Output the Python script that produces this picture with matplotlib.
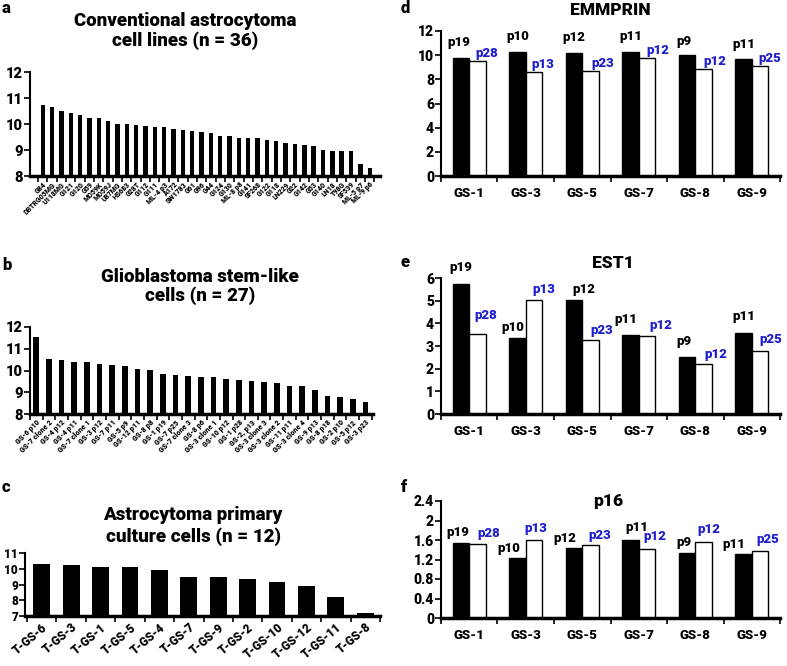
import numpy as np
import matplotlib
matplotlib.use('Agg')
import matplotlib.pyplot as plt

plt.rcParams['font.family'] = ['Roboto', 'DejaVu Sans']
plt.rcParams['font.weight'] = 'black'

W, H = 787, 666
BLUE = '#1f1fd0'

# Panel a: conventional astrocytoma cell lines
a_labels = ['G84', 'DBTRG05MG', 'U118MG', 'G121', 'G120', 'G59', 'MO59K', 'MO59J',
            'U87MG', 'HS683', 'G28T', 'G112', 'G111', 'ML-4 p3', 'A172', 'SW1783',
            'G61', 'G96', 'G44', 'G124', 'G130', 'ML-8 p8', 'G141', 'SF268', 'G122',
            'G118', 'LN229', 'G22', 'G142', 'G53', 'G140', 'LN18', 'T98G', 'SF539',
            'ML-5 p7', 'ML-9 p6']
a_values = [10.75, 10.65, 10.5, 10.42, 10.33, 10.25, 10.25, 10.1, 10.0, 10.0, 9.97,
            9.93, 9.88, 9.88, 9.82, 9.78, 9.75, 9.7, 9.67, 9.55, 9.55, 9.48, 9.46,
            9.46, 9.38, 9.35, 9.28, 9.22, 9.18, 9.15, 9.0, 8.98, 8.96, 8.96, 8.48, 8.3]

# Panel b: glioblastoma stem-like cells
b_labels = ['GS-6 p10', 'GS-7 clone 2', 'GS-4 p12', 'GS-4 p11', 'GS-7 clone 1',
            'GS-3 p12', 'GS-7 p11', 'GS-5 p9', 'GS-12 p11', 'GS-8 p8', 'GS-1 p19',
            'GS-7 p25', 'GS-7 clone 3', 'GS-8 p6', 'GS-3 clone 1', 'GS-10 p12',
            'GS-1 p28', 'GS-2, p13', 'GS-3 clone 3', 'GS-3 clone 2', 'GS-11 p11',
            'GS-3 clone 4', 'GS-9 p13', 'GS-8 p18', 'GS-2 p10', 'GS-5 p12', 'GS-3 p23']
b_values = [11.52, 10.52, 10.5, 10.4, 10.38, 10.32, 10.27, 10.22, 10.08, 10.03, 9.82,
            9.8, 9.76, 9.72, 9.7, 9.63, 9.56, 9.53, 9.47, 9.43, 9.3, 9.28, 9.12, 8.83,
            8.8, 8.68, 8.56]

# Panel c: primary culture cells
c_labels = ['T-GS-6', 'T-GS-3', 'T-GS-1', 'T-GS-5', 'T-GS-4', 'T-GS-7', 'T-GS-9',
            'T-GS-2', 'T-GS-10', 'T-GS-12', 'T-GS-11', 'T-GS-8']
c_values = [10.27, 10.22, 10.13, 10.1, 9.95, 9.5, 9.46, 9.32, 9.15, 8.92, 8.18, 7.18]

# Panels d-f: early vs late passage
gs_lines = ['GS-1', 'GS-3', 'GS-5', 'GS-7', 'GS-8', 'GS-9']
early_pass = ['p19', 'p10', 'p12', 'p11', 'p9', 'p11']
late_pass = ['p28', 'p13', 'p23', 'p12', 'p12', 'p25']
emmprin_early = [9.8, 10.27, 10.2, 10.23, 10.0, 9.72]
emmprin_late = [9.55, 8.6, 8.72, 9.8, 8.86, 9.1]
est1_early = [5.72, 3.35, 5.05, 3.47, 2.5, 3.57]
est1_late = [3.55, 5.03, 3.25, 3.43, 2.22, 2.78]
p16_early = [1.54, 1.23, 1.43, 1.6, 1.33, 1.31]
p16_late = [1.52, 1.59, 1.49, 1.42, 1.56, 1.37]

fig = plt.figure(figsize=(W / 100, H / 100), dpi=100)


def px_axes(l, t, r, b):
    return fig.add_axes([l / W, 1 - b / H, (r - l) / W, (b - t) / H])


def style(ax, ylim, yticks, ysize):
    for s in ['top', 'right']:
        ax.spines[s].set_visible(False)
    ax.spines['left'].set_linewidth(1.5)
    ax.spines['bottom'].set_linewidth(2.5)
    ax.set_ylim(*ylim)
    ax.set_yticks(yticks)
    ax.tick_params(axis='y', direction='out', length=4, width=1.2, labelsize=ysize, pad=1)
    ax.tick_params(axis='x', which='major', length=0)
    ax.tick_params(axis='x', which='minor', direction='out', length=4, width=1.2)


def ranked(ax, labels, values, ylim, yticks, xlim, width, fs, rot, ysize):
    x = np.arange(len(values))
    ax.bar(x, np.array(values) - ylim[0], bottom=ylim[0], width=width, color='black')
    ax.set_xlim(*xlim)
    style(ax, ylim, yticks, ysize)
    ax.set_xticks(x)
    ax.set_xticklabels(labels, rotation=rot, ha='right', rotation_mode='anchor', fontsize=fs)
    ax.set_xticks(np.arange(-0.5, len(values)), minor=True)


ax = px_axes(30, 72, 380, 176)
ranked(ax, a_labels, a_values, (8, 12), [8, 9, 10, 11, 12], (-1.36, 36.1), 0.47, 5, 45, 10.5)
ax = px_axes(30, 327, 373, 414)
ranked(ax, b_labels, b_values, (8, 12), [8, 9, 10, 11, 12], (-0.5, 26.6), 0.45, 5.2, 45, 10.5)
ax = px_axes(25, 553, 380, 616)
ranked(ax, c_labels, c_values, (7, 11), [7, 8, 9, 10, 11], (-0.57, 11.5), 0.57, 8.5, 40, 8.5)


def paired(ax, early, late, ylim, yticks, boff, woff, fmt):
    x = np.arange(len(gs_lines))
    w = 0.295
    ax.bar(x - w / 2, early, width=w, color='black', edgecolor='black', linewidth=1)
    ax.bar(x + w / 2, late, width=w, color='white', edgecolor='black', linewidth=1)
    for i in range(len(x)):
        ax.annotate(early_pass[i], (x[i] - w / 2, early[i]), xytext=boff[i],
                    textcoords='offset pixels', ha='center', va='baseline', fontsize=9.5)
        ax.annotate(late_pass[i], (x[i] + w / 2, late[i]), xytext=woff[i],
                    textcoords='offset pixels', ha='center', va='baseline', fontsize=9.5,
                    color=BLUE)
    ax.set_xlim(-0.5, 5.5)
    style(ax, ylim, yticks, 10)
    ax.set_yticklabels([fmt(v) for v in yticks])
    ax.set_xticks(x)
    ax.set_xticklabels(gs_lines, fontsize=9.5)
    ax.tick_params(axis='x', which='major', pad=8)
    ax.set_xticks(np.arange(-0.5, 6), minor=True)


# label offsets in pixels (dx, dy) from the top of each bar
ax = px_axes(441, 31, 780, 176)
paired(ax, emmprin_early, emmprin_late, (0, 12), list(range(0, 13, 2)),
       [(-2, 12), (0, 12), (0, 12), (0, 12), (-3, 10), (0, 11)],
       [(9, 4), (9, 4), (12, 4), (11, 4), (11, 4), (10, 4)], lambda v: '%d' % v)
ax = px_axes(441, 278, 780, 414)
paired(ax, est1_early, est1_late, (0, 6), list(range(0, 7)),
       [(0, 13), (-5, 7), (10, 7), (-5, 12), (-3, 12), (0, 13)],
       [(8, 15), (10, 7), (11, 6), (14, 7), (12, 6), (11, 8)], lambda v: '%d' % v)
ax = px_axes(441, 501, 780, 618)
paired(ax, p16_early, p16_late, (0, 2.4), [0, 0.4, 0.8, 1.2, 1.6, 2.0, 2.4],
       [(-3, 7), (-9, 6), (-9, 6), (6, 9), (-3, 7), (-10, 6)],
       [(11, 7), (2, 8), (9, 6), (8, 9), (5, 9), (8, 8)], lambda v: ('%g' % v))


# titles and panel letters
def ftext(x, y, s, size, ha='center'):
    fig.text(x / W, 1 - y / H, s, fontsize=size, ha=ha, va='center')


ftext(185, 21, 'Conventional astrocytoma', 13.5)
ftext(185, 41, 'cell lines (n = 36)', 13.5)
ftext(200, 277, 'Glioblastoma stem-like', 13.5)
ftext(200, 296, 'cells (n = 27)', 13.5)
ftext(193, 515, 'Astrocytoma primary', 13.5)
ftext(193, 537, 'culture cells (n = 12)', 13.5)
ftext(610, 10, 'EMMPRIN', 12.5)
ftext(613, 263, 'EST1', 12.5)
ftext(608, 501, 'p16', 12.5)
ftext(2, 8, 'a', 12, 'left')
ftext(2, 265, 'b', 12, 'left')
ftext(2, 487, 'c', 12, 'left')
ftext(401, 8, 'd', 12, 'left')
ftext(401, 262, 'e', 12, 'left')
ftext(401, 487, 'f', 12, 'left')

fig.savefig('out.png', dpi=100)
